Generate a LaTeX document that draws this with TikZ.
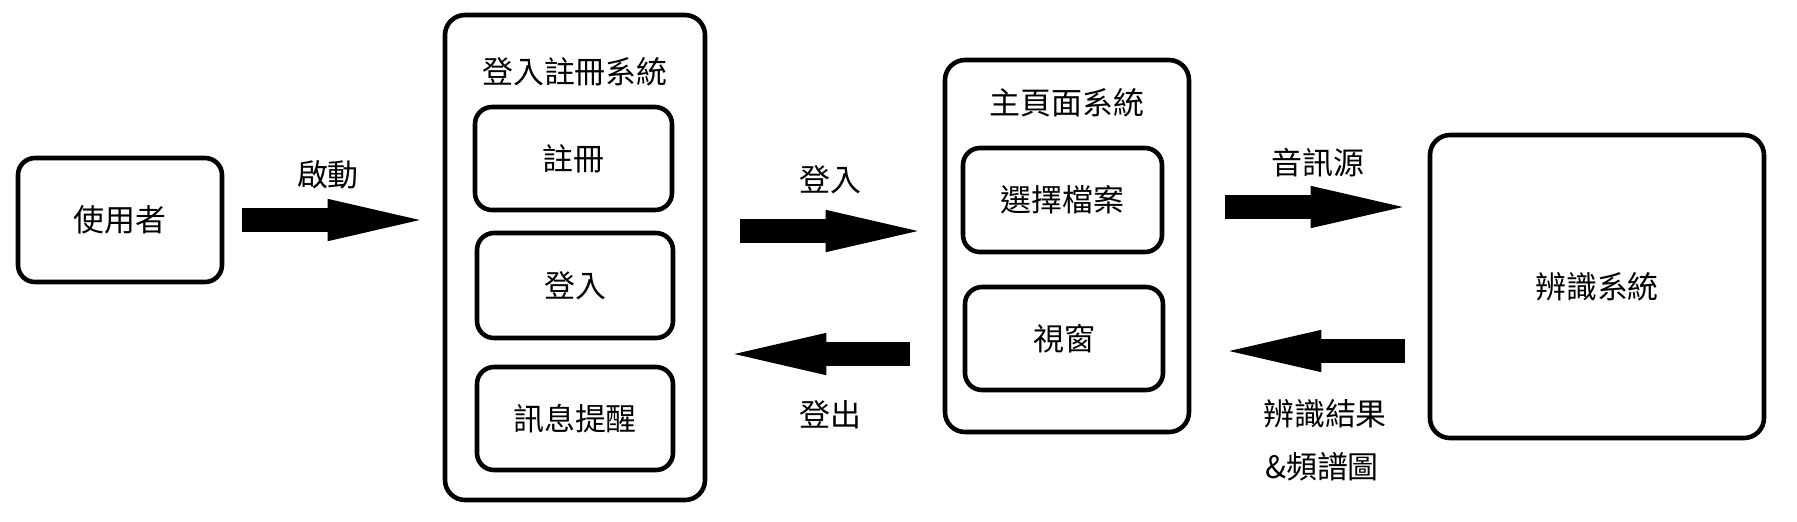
\documentclass[tikz,border=0pt]{standalone}
\usepackage{fontspec}
\setmainfont{Noto Sans CJK TC}
\usetikzlibrary{arrows.meta}

\tikzset{
	box/.style={draw, line width=1.3pt, rounded corners=0.17cm, align=center},
	bigbox/.style={box, rounded corners=0.2cm},
	fat/.style={line width=0.24cm, -{Triangle[length=0.92cm, width=0.42cm, line width=0.4pt]}},
}

\begin{document}
\begin{tikzpicture}[font=\fontsize{8.8}{10.5}\selectfont]
			%%%%% START %%%%%
			\useasboundingbox (0, 0) rectangle (17.97, -5.21);
			
			\node[box, minimum width=2.04cm, minimum height=1.24cm] (user) at (1.20, -2.20) {使用者};
			
			\node[bigbox, minimum width=2.60cm, minimum height=4.85cm] (login) at (5.75, -2.575) {};
			\node (logintitle) at (5.75, -0.72) {登入註冊系統};
			\node[box, minimum width=1.97cm, minimum height=1.03cm] (reg) at (5.735, -1.585) {註冊};
			\node[box, minimum width=1.96cm, minimum height=1.05cm] (signin) at (5.75, -2.855) {登入};
			\node[box, minimum width=1.96cm, minimum height=1.03cm] (msg) at (5.75, -4.185) {訊息提醒};
			
			\node[bigbox, minimum width=2.44cm, minimum height=3.72cm] (home) at (10.67, -2.46) {};
			\node (hometitle) at (10.67, -1.03) {主頁面系統};
			\node[box, minimum width=1.99cm, minimum height=1.04cm] (pick) at (10.625, -2.00) {選擇檔案};
			\node[box, minimum width=1.98cm, minimum height=1.03cm] (view) at (10.64, -3.385) {視窗};
			
			\node[bigbox, minimum width=3.34cm, minimum height=3.03cm] (recog) at (15.97, -2.865) {辨識系統};
			
			% arrows
			\coordinate (inrow) at (0, -2.31);
			\coordinate (outrow) at (0, -3.54);
			\coordinate (srcrow) at (0, -2.07);
			\coordinate (resrow) at (0, -3.51);
			
			\draw[fat, shorten <=0.18cm, shorten >=0.23cm] (user.east) -- (user.east -| login.west);
			\node (start) at (3.28, -1.75) {啟動};
			
			\draw[fat, shorten <=0.33cm, shorten >=0.25cm] (login.east |- inrow) -- (home.west |- inrow);
			\node (inlabel) at (8.30, -1.80) {登入};
			\draw[fat, shorten <=0.33cm, shorten >=0.27cm] (home.west |- outrow) -- (login.east |- outrow);
			\node (outlabel) at (8.30, -4.15) {登出};
			
			\draw[fat, shorten <=0.34cm, shorten >=0.25cm] (home.east |- srcrow) -- (recog.west |- srcrow);
			\node (srclabel) at (13.18, -1.63) {音訊源};
			\draw[fat, shorten <=0.23cm, shorten >=0.38cm] (recog.west |- resrow) -- (home.east |- resrow);
			\node (reslabel) at (13.25, -4.14) {辨識結果};
			\node (speclabel) at (13.22, -4.67) {\&頻譜圖};
			%%%%% END %%%%%
		\end{tikzpicture}
\end{document}
